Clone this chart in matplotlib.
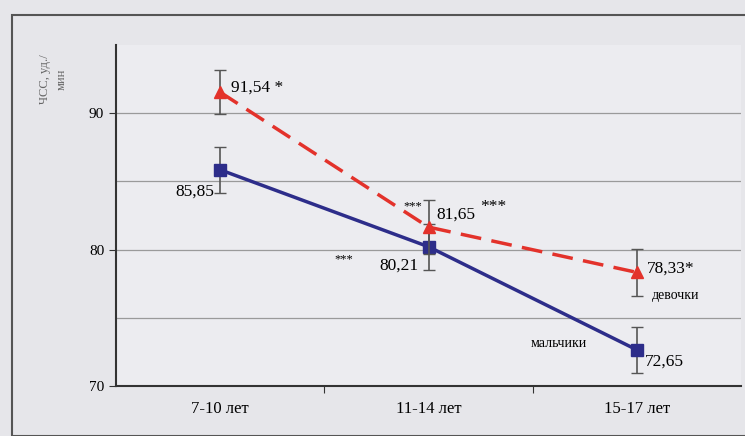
import matplotlib.pyplot as plt
from matplotlib.patches import Rectangle

categories = ["7-10 лет", "11-14 лет", "15-17 лет"]
boys = [85.85, 80.21, 72.65]
boys_err = [1.7, 1.7, 1.7]
girls = [91.54, 81.65, 78.33]
girls_err = [1.6, 2.0, 1.7]
boys_labels = ["85,85", "80,21", "72,65"]
girls_labels = ["91,54", "81,65", "78,33"]

plt.rcParams["font.family"] = ["Liberation Serif", "DejaVu Serif"]

fig = plt.figure(figsize=(7.45, 4.36), dpi=100)
fig.patch.set_facecolor("#e6e6ea")
# scan frame
fig.add_artist(Rectangle((12 / 745, 0), 0.99, 1 - 15 / 436, transform=fig.transFigure,
                         fill=False, edgecolor="#555555", lw=1.5))

ax = fig.add_axes([116 / 745, 50 / 436, 625 / 745, 341 / 436])
ax.set_facecolor("#ececf0")
x = [0, 1, 2]
ax.set_xlim(-0.5, 2.5)
ax.set_ylim(70, 95)

for y in [75, 80, 85, 90]:
    ax.axhline(y, color="#9a9a9a", lw=0.9, zorder=0)

ax.errorbar(x, boys, yerr=boys_err, color="#2d2d8a", lw=2.5, marker="s", ms=8,
            ecolor="#555555", elinewidth=1.2, capsize=4, zorder=3)
ax.errorbar(x, girls, yerr=girls_err, color="#e3322b", lw=2.5, ls=(0, (6, 3)),
            marker="^", ms=9, ecolor="#555555", elinewidth=1.2, capsize=4, zorder=4)

fs = 12.5
ax.text(x[0] + 0.05, girls[0] + 0.3, girls_labels[0] + " *", fontsize=fs, va="center")
ax.text(x[0] - 0.03, boys[0] - 1.6, boys_labels[0], fontsize=fs, ha="right", va="center")
ax.text(x[1] + 0.04, girls[1] + 0.9, girls_labels[1], fontsize=fs, va="center")
ax.text(x[1] + 0.25, girls[1] + 1.5, "***", fontsize=fs, va="center")
ax.text(x[1] - 0.03, girls[1] + 1.5, "***", fontsize=9, ha="right", va="center")
ax.text(x[1] - 0.05, boys[1] - 1.4, boys_labels[1], fontsize=fs, ha="right", va="center")
ax.text(x[1] - 0.36, boys[1] - 0.9, "***", fontsize=9, ha="right", va="center")
ax.text(x[2] + 0.05, girls[2] + 0.3, girls_labels[2] + "*", fontsize=fs, va="center")
ax.text(x[2] + 0.07, girls[2] - 1.7, "девочки", fontsize=10, va="center")
ax.text(x[2] - 0.24, boys[2] + 0.5, "мальчики", fontsize=10, ha="right", va="center")
ax.text(x[2] + 0.04, boys[2] - 0.9, boys_labels[2], fontsize=fs, va="center")

ax.set_xticks([0.5, 1.5])
ax.set_xticklabels([])
ax.tick_params(axis="x", length=5, color="#333333")
ax.set_yticks([70, 80, 90])
ax.tick_params(axis="y", length=5, labelsize=11, color="#333333")
for i, c in enumerate(categories):
    ax.text(x[i], 68.3, c, fontsize=12, ha="center", va="center")

for s in ["top", "right"]:
    ax.spines[s].set_visible(False)
ax.spines["left"].set_color("#333333")
ax.spines["bottom"].set_color("#333333")
ax.spines["left"].set_linewidth(1.5)
ax.spines["bottom"].set_linewidth(1.5)

ax.text(-0.8, 92.5, "ЧСС, уд./\nмин", fontsize=9, rotation=90, ha="center", va="center",
        color="#666666", linespacing=1.6)

fig.savefig("out.png", dpi=100, facecolor=fig.get_facecolor())
